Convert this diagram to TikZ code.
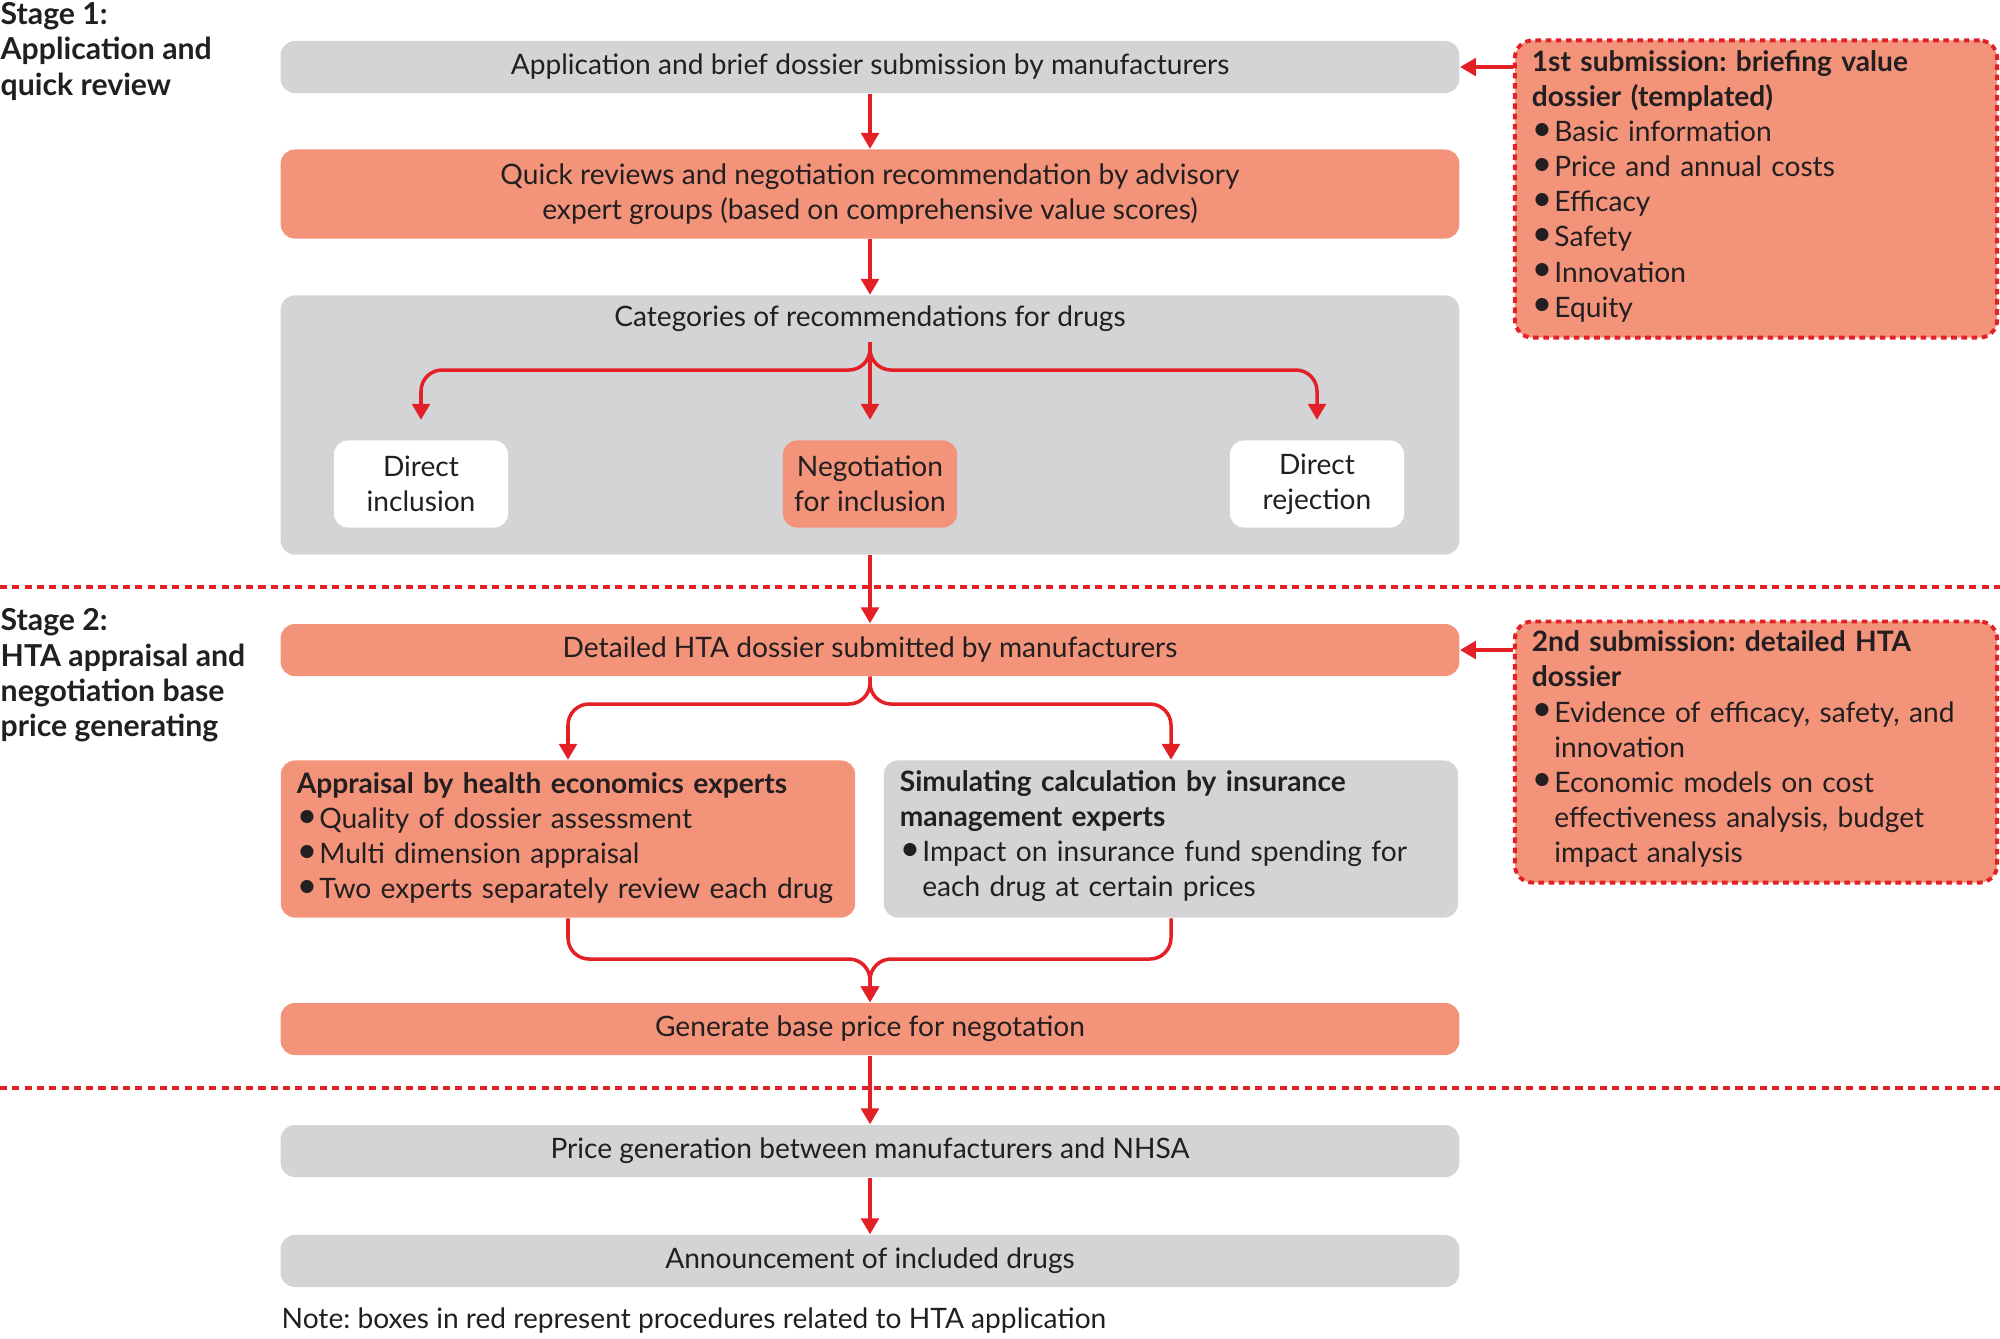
\documentclass[tikz,border=0pt]{standalone}
\usepackage{fontspec}
\setmainfont{Lato}
\usetikzlibrary{arrows.meta}
\setlength{\parindent}{0pt}
\frenchspacing
\definecolor{hsalmon}{RGB}{242,147,122}
\definecolor{hgray}{RGB}{211,212,214}
\definecolor{hred}{RGB}{228,32,39}
\definecolor{htext}{RGB}{35,31,32}
\newcommand{\btitle}[1]{\textbf{#1}\strut}
\newcommand{\bitem}[1]{\par\prevdepth=\dp\strutbox\noindent\makebox[0.8em][l]{\raisebox{0.1ex}{\fontsize{10}{10}\selectfont\textbullet}}\parbox[t]{\dimexpr\hsize-0.8em\relax}{\raggedright\strut #1\strut}}

\begin{document}
\begin{tikzpicture}[x=0.01cm, y=-0.01cm, font=\fontsize{8}{10}\selectfont, text=htext,
	box/.style={rectangle, rounded corners=4pt, minimum width=11.78cm, minimum height=0.52cm, align=center, inner sep=0pt},
	graybox/.style={box, fill=hgray},
	redbox/.style={box, fill=hsalmon},
	smallbox/.style={rectangle, rounded corners=4pt, minimum width=1.74cm, minimum height=0.87cm, align=center, inner sep=0pt},
	listbox/.style={rectangle, rounded corners=4pt, align=left, inner xsep=0.16cm, inner ysep=0pt, text width=5.42cm, minimum height=1.57cm},
	subbox/.style={rectangle, rounded corners=5pt, align=left, fill=hsalmon, draw=hred, line width=1.1pt, dash pattern=on 1.6pt off 1.3pt, inner xsep=0.17cm, inner ysep=0pt, text width=4.48cm},
	stage/.style={anchor=north west, align=left, inner sep=0pt, font=\fontsize{8.6}{10}\selectfont\bfseries},
	arr/.style={draw=hred, line width=1pt, -{Triangle[width=5pt,length=4.5pt]}},
	sep/.style={draw=hred, line width=0.9pt, dash pattern=on 2pt off 1.5pt}]
	\useasboundingbox (0,0) rectangle (2000,1338);

	% stage labels
	\node[stage] (stage1) at (0,2) {Stage 1:\\Application and\\quick review};
	\node[stage] (stage2) at (0,608) {Stage 2:\\HTA appraisal and\\negotiation base\\price generating};

	\draw[sep] (0,587) -- (2000,587);
	\draw[sep] (0,1088) -- (2000,1088);

	% stage 1
	\node[graybox] (app) at (870,67) {Application and brief dossier submission by manufacturers};
	\node[redbox, minimum height=0.89cm] (quick) at (870,194) {Quick reviews and negotiation recommendation by advisory\\expert groups (based on comprehensive value scores)};
	\node[graybox, minimum height=2.59cm] (cat) at (870,425) {};
	\node (cattitle) at (870,319) {Categories of recommendations for drugs};
	\coordinate (catsplit) at (870,342);
	\coordinate (catbar) at (870,370);
	\node[smallbox, fill=white] (incl) at (421,484) {Direct\\inclusion};
	\node[smallbox, fill=hsalmon] (nego) at (870,484) {Negotiation\\for inclusion};
	\node[smallbox, fill=white] (rej) at (1317,484) {Direct\\rejection};

	\node[subbox, minimum height=2.97cm] (sub1) at (1756,189) {\btitle{1st submission: briefing value\break dossier (templated)}\bitem{Basic information}\bitem{Price and annual costs}\bitem{Efficacy}\bitem{Safety}\bitem{Innovation}\bitem{Equity}};

	% stage 2
	\node[redbox] (detail) at (870,650) {Detailed HTA dossier submitted by manufacturers};
	\coordinate (detsplit) at (870,704);
	\node[listbox, fill=hsalmon] (appr) at (568,839) {\btitle{Appraisal by health economics experts}\bitem{Quality of dossier assessment}\bitem{Multi dimension appraisal}\bitem{Two experts separately review each drug}};
	\node[listbox, fill=hgray] (sim) at (1171,839) {\btitle{Simulating calculation by insurance\break management experts}\bitem{Impact on insurance fund spending for\\each drug at certain prices}};
	\coordinate (merge) at (870,959);
	\node[redbox] (base) at (870,1029) {Generate base price for negotation};

	\node[subbox, minimum height=2.61cm] (sub2) at (1756,752) {\btitle{2nd submission: detailed HTA\break dossier}\bitem{Evidence of efficacy, safety, and\\innovation}\bitem{Economic models on cost\\effectiveness analysis, budget\\impact analysis}};

	% stage 3
	\node[graybox] (price) at (870,1151) {Price generation between manufacturers and NHSA};
	\node[graybox] (ann) at (870,1261) {Announcement of included drugs};
	\node[anchor=west, inner sep=0pt] (note) at (281,1321) {Note: boxes in red represent procedures related to HTA application};

	% connectors
	\draw[arr] (app) -- (quick);
	\draw[arr] (quick) -- (cat);
	\draw[arr, rounded corners=6pt, shorten >=0.2cm] (catsplit) -- (catbar) -| (incl.north);
	\draw[arr, rounded corners=6pt, shorten >=0.2cm] (catsplit) -- (catbar) -| (rej.north);
	\draw[arr, shorten >=0.2cm] (catsplit) -- (nego.north);
	\draw[arr] (cat) -- (detail);
	\draw[arr, rounded corners=6pt] (detail.south) -- (detsplit) -| (appr.north);
	\draw[arr, rounded corners=6pt] (detail.south) -- (detsplit) -| (sim.north);
	\draw[arr, rounded corners=6pt] (appr.south) |- (merge) -- (base);
	\draw[arr, rounded corners=6pt] (sim.south) |- (merge) -- (base);
	\draw[arr] (base) -- (price);
	\draw[arr] (price) -- (ann);
	\draw[arr] (sub1.west |- app.east) -- (app.east);
	\draw[arr] (sub2.west |- detail.east) -- (detail.east);
\end{tikzpicture}
\end{document}
